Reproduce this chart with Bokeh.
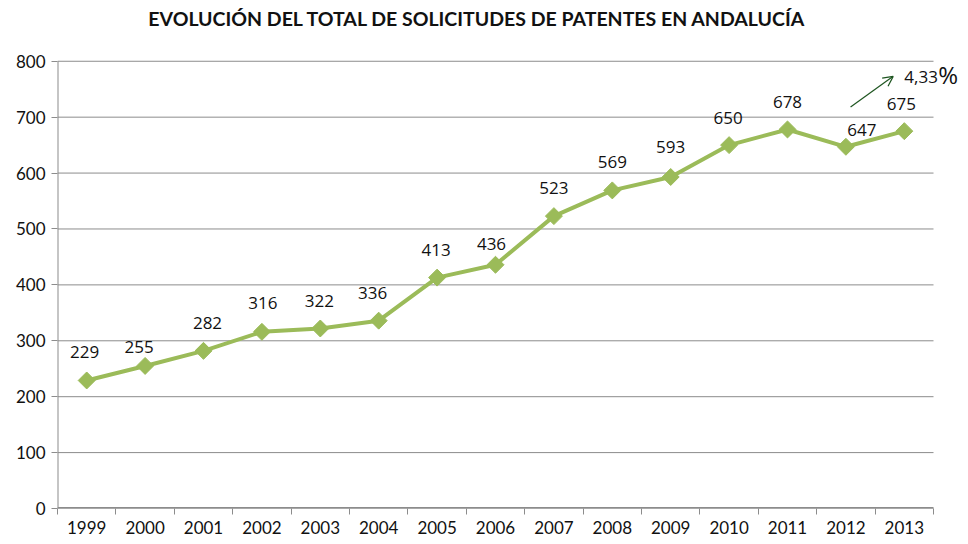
from bokeh.plotting import figure
from bokeh.models import (ColumnDataSource, LabelSet, Label, Arrow, OpenHead,
                          FixedTicker, Range1d)
from bokeh.core.properties import value
from bokeh.embed import file_html
from bokeh.resources import INLINE
import math

# ---- data ----
years = ["1999", "2000", "2001", "2002", "2003", "2004", "2005", "2006",
         "2007", "2008", "2009", "2010", "2011", "2012", "2013"]
solicitudes = [229, 255, 282, 316, 322, 336, 413, 436, 523, 569, 593, 650, 678, 647, 675]
y_ticks = [0, 100, 200, 300, 400, 500, 600, 700, 800]
title_text = "EVOLUCIÓN DEL TOTAL DE SOLICITUDES DE PATENTES EN ANDALUCÍA"
growth_text = "4,33"

# label offsets in screen px (style)
lab_dx = [-2, -6, 4, 1, -1, -6, -1, -4, 0, 0, 0, -1, 0, 16, -3]
lab_dy = [28, 19, 28, 29, 27, 28, 28, 21, 28, 28, 30, 27, 27, 17, 27]

TICK_FONT = "Lato"
LAB_FONT = "Open Sans"
TITLE_FONT = "Lato"
GREEN = "#9BBB59"
GRID = "#8C8C8C"
TXT = "#111111"
ARROW_C = "#1E5520"

# ---- layout (pixels) ----
W, H = 960, 536
LEFT, BOTTOM = 57, 26
AXIS_END_PX = 933        # right end of category axis
PLOT_TOP_PX = 61         # where value 800 sits
PLOT_BOTTOM_PX = 510     # where value 0 sits
TITLE_Y_PX = 18
Y_MAX = 800

n = len(years)
px_per_cat = (AXIS_END_PX - LEFT) / n
px_per_unit = (PLOT_BOTTOM_PX - PLOT_TOP_PX) / Y_MAX
x_lo = -0.5
x_hi = x_lo + (W - LEFT) / px_per_cat
x_axis_end = n - 0.5
y_hi = PLOT_BOTTOM_PX / px_per_unit   # frame reaches the top of the canvas

idx = list(range(n))
src = ColumnDataSource(dict(x=idx, y=solicitudes,
                            lab=[str(v) for v in solicitudes],
                            dx=lab_dx, dy=lab_dy))

p = figure(width=W, height=H, output_backend="svg", toolbar_location=None,
           x_range=Range1d(x_lo, x_hi), y_range=Range1d(0, y_hi),
           min_border_left=LEFT, min_border_right=0, min_border_top=0,
           min_border_bottom=BOTTOM)
p.outline_line_color = None
p.background_fill_color = "white"
p.border_fill_color = "white"

# title
p.add_layout(Label(x=(x_lo + x_axis_end) / 2, y=(PLOT_BOTTOM_PX - TITLE_Y_PX) / px_per_unit,
                   x_offset=-18, text=title_text, text_font=TITLE_FONT,
                   text_font_size="19.5px", text_font_style="bold", text_color=TXT,
                   text_align="center", text_baseline="middle"))

# horizontal gridlines, limited to the category extent
p.segment(x0=x_lo, x1=x_axis_end, y0=y_ticks, y1=y_ticks, line_color=GRID, line_width=1)
# axis lines
p.segment(x0=[x_lo], x1=[x_axis_end], y0=[0], y1=[0], line_color=GRID, line_width=3)
p.segment(x0=[x_lo], x1=[x_lo], y0=[0], y1=[Y_MAX], line_color=GRID, line_width=2)

p.line("x", "y", source=src, line_color=GREEN, line_width=4)
p.scatter("x", "y", source=src, marker="square", size=12, angle=math.pi / 4,
          fill_color=GREEN, line_color=GREEN)

labels = LabelSet(x="x", y="y", text="lab", source=src, x_offset="dx", y_offset="dy",
                  text_align="center", text_baseline="middle", text_font=value(LAB_FONT),
                  text_font_size="17px", text_color=TXT)
p.add_layout(labels)

# growth annotation
p.add_layout(Arrow(end=OpenHead(size=10, line_color=ARROW_C, line_width=1.2),
                   x_start=13.08, y_start=718, x_end=13.81, y_end=773,
                   line_color=ARROW_C, line_width=1.2))
p.add_layout(Label(x=14.0, y=772, text=growth_text, text_font=LAB_FONT,
                   text_font_size="17px", text_baseline="middle", text_color=TXT))
p.add_layout(Label(x=14.0, y=772, x_offset=34, y_offset=2, text="%", text_font=LAB_FONT,
                   text_font_size="24px", text_baseline="middle", text_color=TXT))

# y axis (line drawn above; ticks and labels from the axis)
p.yaxis.ticker = FixedTicker(ticks=y_ticks)
p.yaxis.axis_line_color = None
p.yaxis.major_tick_line_color = GRID
p.yaxis.major_tick_in = 0
p.yaxis.major_tick_out = 6
p.yaxis.minor_tick_line_color = None
p.yaxis.major_label_text_font = TICK_FONT
p.yaxis.major_label_text_font_size = "17px"
p.yaxis.major_label_text_color = TXT
p.yaxis.major_label_standoff = 6

# x axis: labels at centers, ticks at boundaries
p.xaxis.ticker = FixedTicker(ticks=idx, minor_ticks=[i - 0.5 for i in range(n + 1)])
p.xaxis.major_label_overrides = {i: y for i, y in enumerate(years)}
p.xaxis.axis_line_color = None
p.xaxis.major_tick_line_color = None
p.xaxis.minor_tick_line_color = GRID
p.xaxis.minor_tick_in = 0
p.xaxis.minor_tick_out = 6
p.xaxis.major_label_text_font = TICK_FONT
p.xaxis.major_label_text_font_size = "17px"
p.xaxis.major_label_text_color = TXT
p.xaxis.major_label_standoff = 6

p.xgrid.grid_line_color = None
p.ygrid.grid_line_color = None

open("out.html", "w").write(file_html(p, INLINE))
